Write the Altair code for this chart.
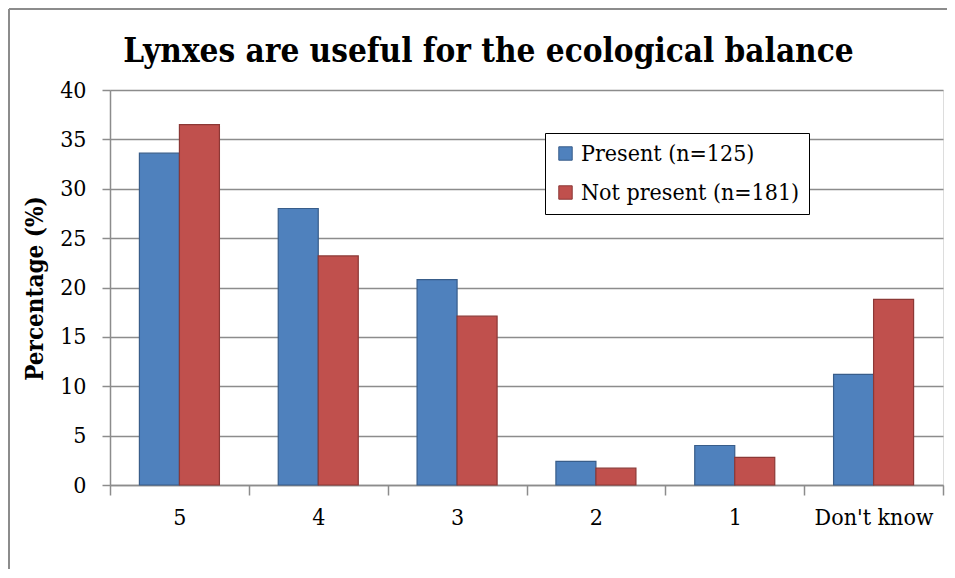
import altair as alt
import pandas as pd

categories = ["5", "4", "3", "2", "1", "Don't know"]
present = [33.6, 28.0, 20.8, 2.4, 4.0, 11.2]
not_present = [36.5, 23.2, 17.1, 1.7, 2.8, 18.8]
series = ["Present (n=125)", "Not present (n=181)"]
colors = ["#4f81bd", "#c0504d"]
strokes = ["#385d8a", "#8c3836"]

rows = []
for c, p, n in zip(categories, present, not_present):
    rows.append({"cat": c, "series": series[0], "value": p})
    rows.append({"cat": c, "series": series[1], "value": n})
df = pd.DataFrame(rows)

FONT = "DejaVu Serif Condensed, DejaVu Serif"
W, H = 833, 395

bars = alt.Chart(df).mark_bar(strokeWidth=1.2).encode(
    x=alt.X("cat:N", sort=categories, title=None,
            scale=alt.Scale(paddingInner=0, paddingOuter=0),
            axis=alt.Axis(tickBand="extent", labelAngle=0, labelFontSize=23,
                          labelFont=FONT, labelColor="#000000", labelPadding=11,
                          tickSize=10, tickColor="#8c8c8c", tickWidth=1.5,
                          domainColor="#8c8c8c", domainWidth=1.5, grid=False)),
    xOffset=alt.XOffset("series:N", sort=series,
                        scale=alt.Scale(paddingInner=0, paddingOuter=0.735)),
    y=alt.Y("value:Q", title="Percentage (%)",
            scale=alt.Scale(domain=[0, 40]),
            axis=alt.Axis(values=[0, 5, 10, 15, 20, 25, 30, 35, 40],
                          labelFontSize=23, labelFont=FONT, labelColor="#000000",
                          labelPadding=16, tickSize=8, tickColor="#8c8c8c",
                          tickWidth=1.5, domainColor="#8c8c8c", domainWidth=1.5,
                          gridColor="#8c8c8c", gridWidth=1.5,
                          titleFont=FONT, titleFontSize=24, titleFontWeight="bold",
                          titleColor="#000000", titleX=-75, titleY=198,
                          titleAngle=-90, titleBaseline="middle", titleAlign="center")),
    color=alt.Color("series:N", sort=series,
                    scale=alt.Scale(domain=series, range=colors),
                    legend=alt.Legend(title=None, orient="none", legendX=435, legendY=43,
                                      labelFont=FONT, labelFontSize=23, labelLimit=0,
                                      labelColor="#000000", symbolType="square",
                                      symbolSize=180, symbolStrokeWidth=1,
                                      strokeColor="#000000", fillColor="#ffffff",
                                      padding=9, rowPadding=15, labelOffset=4)),
    stroke=alt.Stroke("series:N", sort=series,
                      scale=alt.Scale(domain=series, range=strokes), legend=None),
)

one = pd.DataFrame({"f": [0]})
frame_left = alt.Chart(one).mark_rule(stroke="#8c8c8c", strokeWidth=2).encode(
    x=alt.value(-101), y=alt.value(-81), y2=alt.value(H + 84))
frame_top = alt.Chart(one).mark_rule(stroke="#8c8c8c", strokeWidth=2).encode(
    x=alt.value(-101), x2=alt.value(W + 4), y=alt.value(-81))

chart = alt.layer(frame_left, frame_top, bars).properties(
    width=W, height=H,
    title=alt.TitleParams("Lynxes are useful for the ecological balance",
                          font=FONT, fontSize=33, fontWeight="bold", frame="group",
                          color="#000000", anchor="middle", offset=-61, dx=-38),
    autosize=alt.AutoSizeParams(type="none"),
    padding={"left": 102, "top": 82, "right": 4, "bottom": 84},
).configure_view(fill="#e6e6e6", stroke=None).configure(background="#ffffff")

chart.save("out.html", embed_options={"renderer": "svg", "actions": False})
